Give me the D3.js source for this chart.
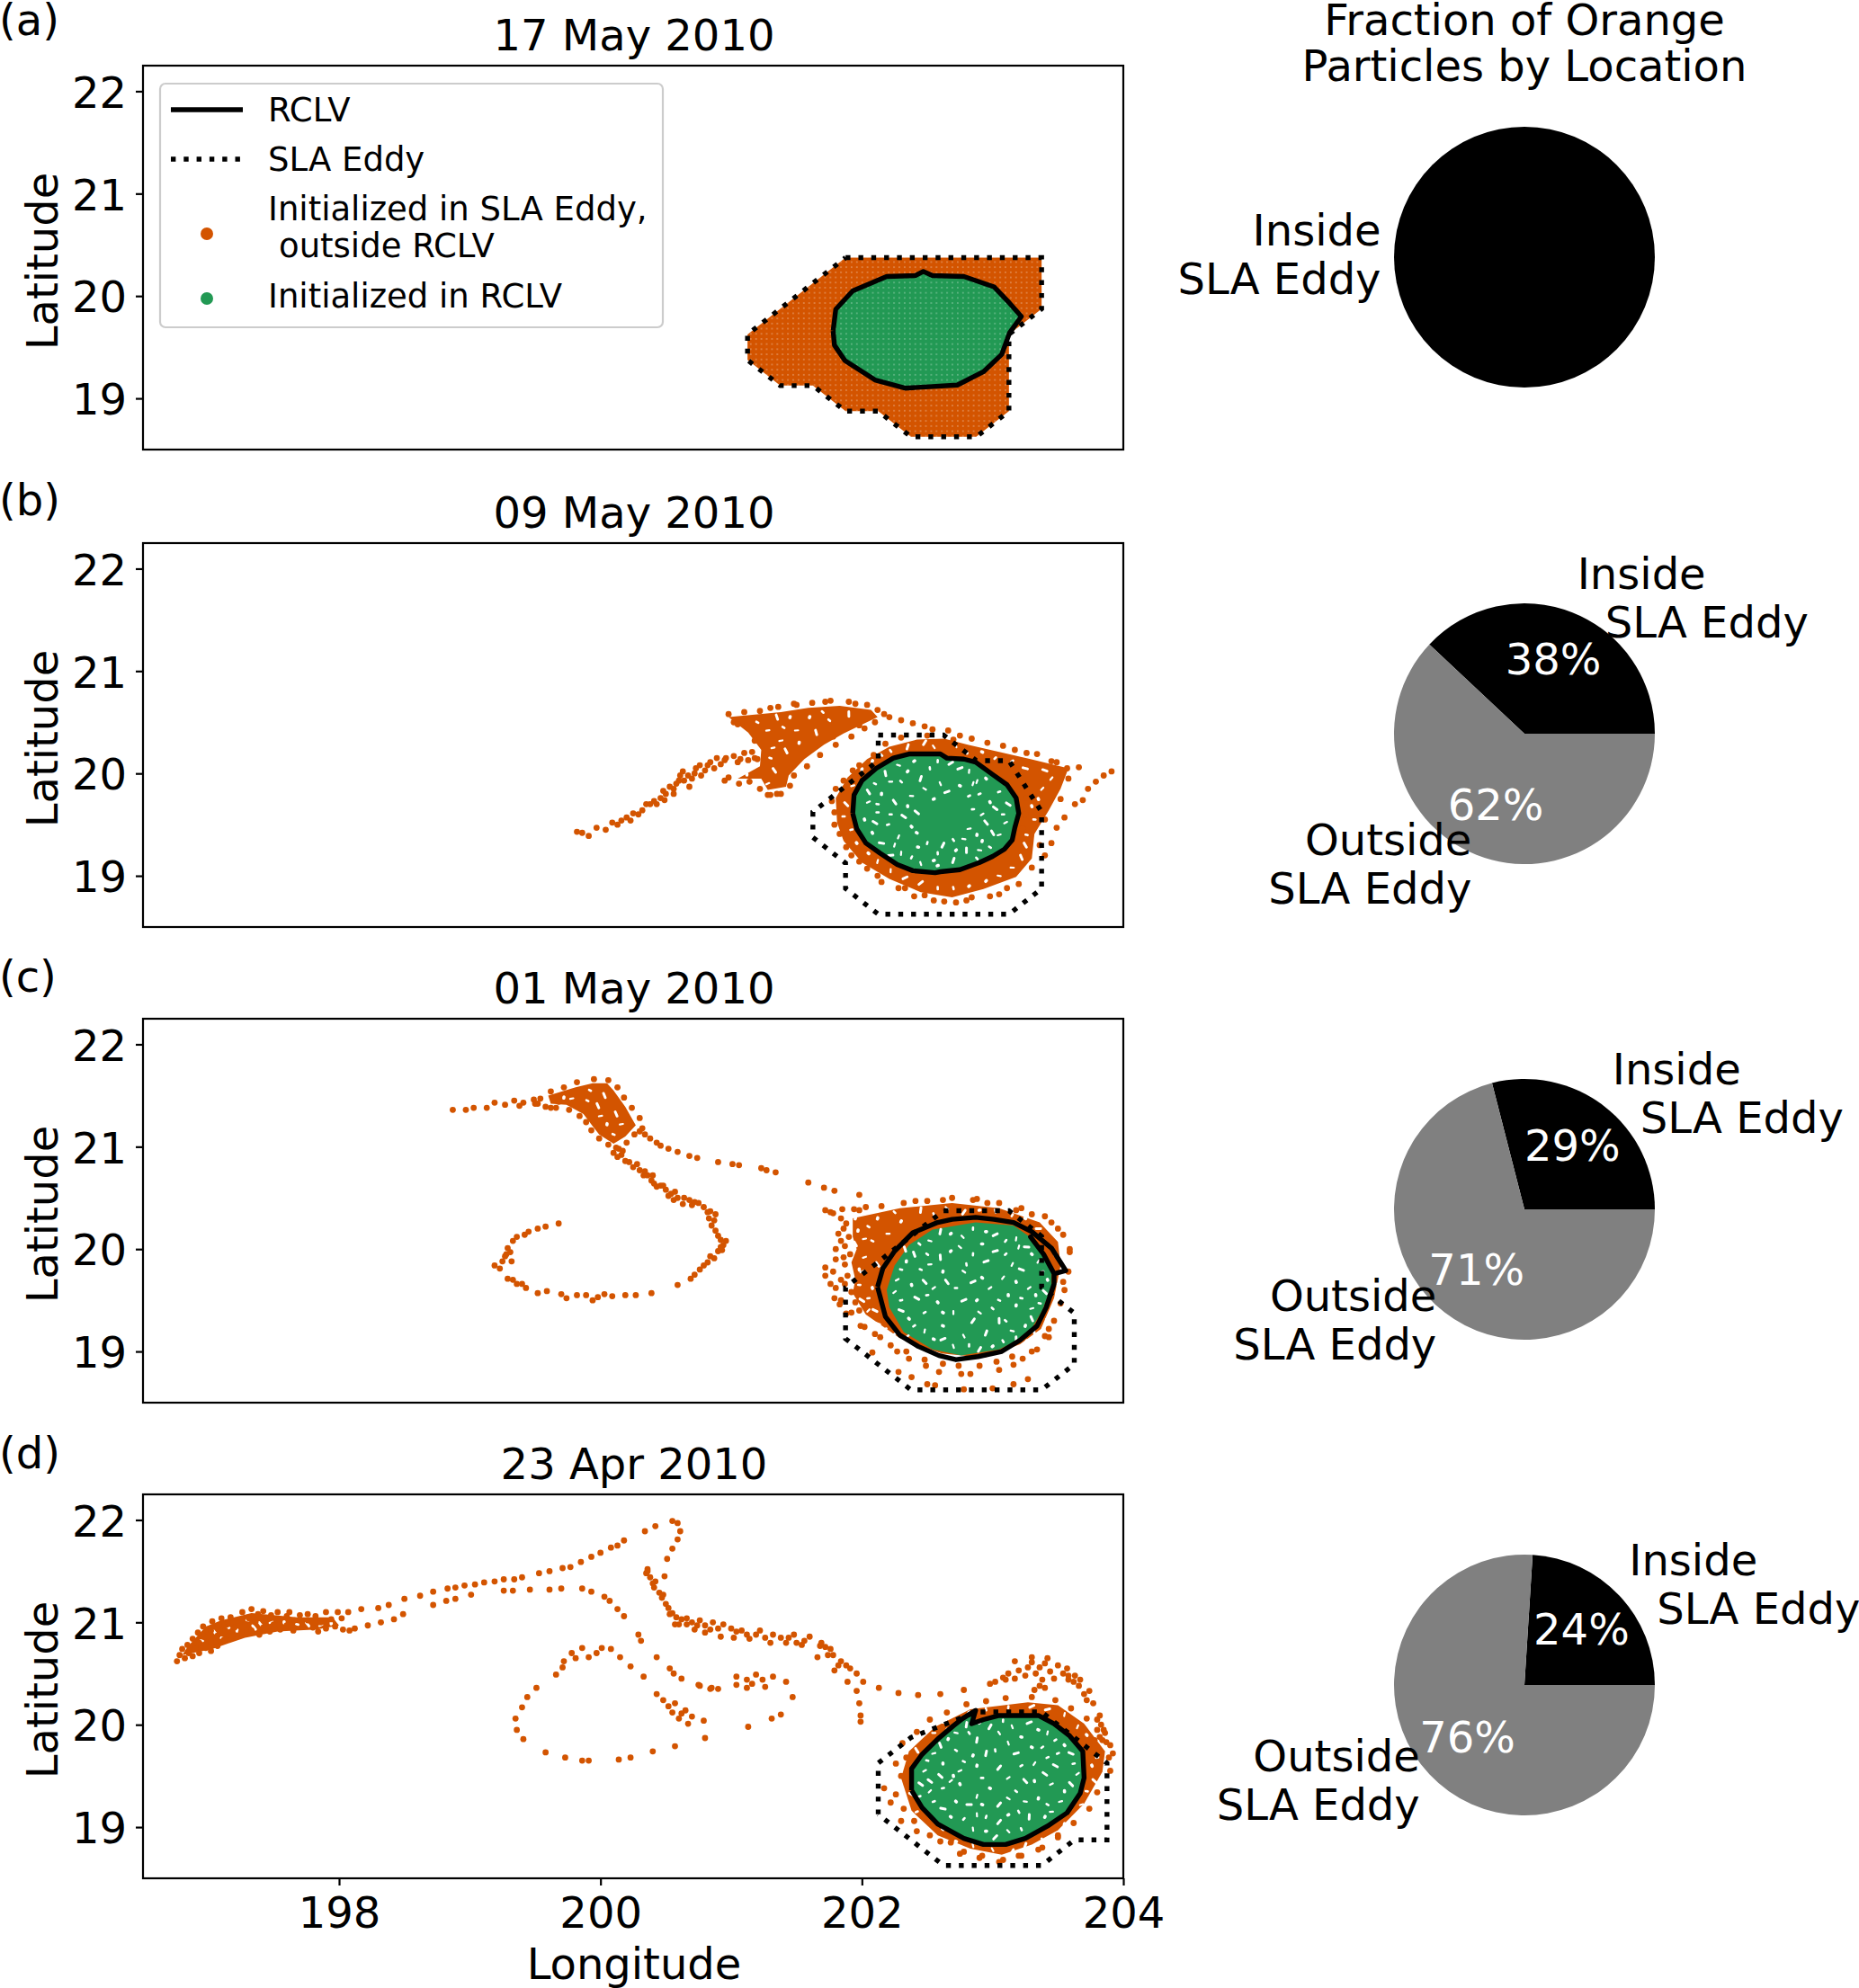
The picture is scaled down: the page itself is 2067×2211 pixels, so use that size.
<!DOCTYPE html>
<html>
<head>
<meta charset="utf-8">
<script src="https://d3js.org/d3.v7.min.js"></script>
<style>
  body { margin: 0; background: #fff; }
  text { font-family: "DejaVu Sans", sans-serif; fill: #000; }
</style>
</head>
<body>
<svg></svg>
<script>
// axis values
const lonTicks = [198, 200, 202, 204];
const latTicks = [19, 20, 21, 22];
const panelLetters = ["(a)", "(b)", "(c)", "(d)"];
const panelDates = ["17 May 2010", "09 May 2010", "01 May 2010", "23 Apr 2010"];
const pieValues = [[100], [38, 62], [29, 71], [24, 76]];
const pieNames = [["Inside", "SLA Eddy"], ["Outside", "SLA Eddy"]];
const legendNames = ["RCLV", "SLA Eddy", "Initialized in SLA Eddy,", " outside RCLV", "Initialized in RCLV"];

// contours, lon/lat
const rclvA = [[201.78,19.66],[201.80,19.87],[201.93,20.05],[202.19,20.19],[202.41,20.20],[202.47,20.24],[202.54,20.20],[202.78,20.19],[203.01,20.09],[203.13,19.93],[203.22,19.80],[203.13,19.64],[203.07,19.43],[202.93,19.26],[202.73,19.13],[202.33,19.10],[202.10,19.18],[201.87,19.37],[201.79,19.52],[201.78,19.66]];
const rclvB = [[201.93,19.61],[201.94,19.79],[202.00,19.93],[202.11,20.05],[202.24,20.15],[202.36,20.19],[202.60,20.19],[202.65,20.15],[202.78,20.14],[202.87,20.11],[203.00,19.99],[203.11,19.89],[203.18,19.76],[203.20,19.61],[203.17,19.47],[203.15,19.35],[203.09,19.26],[203.00,19.19],[202.90,19.13],[202.75,19.06],[202.60,19.04],[202.56,19.03],[202.39,19.05],[202.27,19.11],[202.14,19.22],[202.03,19.32],[201.96,19.46],[201.93,19.61]];
const rclvC = [[202.12,19.63],[202.16,19.81],[202.25,19.98],[202.39,20.16],[202.58,20.26],[202.69,20.29],[202.87,20.31],[203.01,20.29],[203.16,20.26],[203.30,20.17],[203.45,20.01],[203.52,19.87],[203.56,19.79],[203.47,19.76],[203.39,19.95],[203.29,20.12],[203.39,19.95],[203.47,19.76],[203.47,19.66],[203.41,19.43],[203.34,19.25],[203.21,19.11],[203.07,19.00],[202.89,18.95],[202.72,18.92],[202.59,18.96],[202.43,19.05],[202.29,19.16],[202.18,19.34],[202.12,19.63]];
const rclvD = [[202.38,19.36],[202.38,19.57],[202.46,19.71],[202.58,19.86],[202.70,19.99],[202.77,20.06],[202.87,20.14],[202.84,20.01],[202.93,20.05],[203.05,20.09],[203.35,20.09],[203.47,20.01],[203.59,19.89],[203.69,19.74],[203.70,19.48],[203.67,19.33],[203.57,19.14],[203.42,19.01],[203.25,18.89],[203.10,18.83],[202.93,18.83],[202.78,18.89],[202.58,19.03],[202.46,19.19],[202.38,19.36]];

const slaA = [[201.875,20.375],[203.375,20.375],[203.375,19.875],[203.125,19.625],[203.125,18.875],[202.875,18.625],[202.375,18.625],[202.125,18.875],[201.875,18.875],[201.625,19.125],[201.375,19.125],[201.125,19.375],[201.125,19.625],[201.875,20.375]];
const slaB = [[202.125,20.375],[202.625,20.375],[202.875,20.125],[203.125,20.125],[203.375,19.625],[203.375,18.875],[203.125,18.625],[202.125,18.625],[201.875,18.875],[201.875,19.125],[201.625,19.375],[201.625,19.625],[202.125,20.125],[202.125,20.375]];
const slaC = [[202.625,20.375],[203.125,20.375],[203.375,20.125],[203.375,19.625],[203.625,19.375],[203.625,18.875],[203.375,18.625],[202.375,18.625],[201.875,19.125],[201.875,19.625],[202.625,20.375]];
const slaD = [[202.125,19.125],[202.125,19.625],[202.375,19.875],[202.875,20.125],[203.375,20.125],[203.875,19.625],[203.875,18.875],[203.625,18.875],[203.375,18.625],[202.625,18.625],[202.125,19.125]];

// areas where the particles are packed so tight they read as one fill
const denseOrangeA = [slaA];
const denseOrangeB = [
  [[201.80,19.76],[201.89,19.96],[202.04,20.14],[202.21,20.26],[202.42,20.33],[202.63,20.34],[202.81,20.28],[203.05,20.21],[203.29,20.14],[203.58,20.05],[203.52,19.85],[203.43,19.64],[203.32,19.41],[203.30,19.17],[203.18,18.99],[202.93,18.87],[202.69,18.79],[202.45,18.84],[202.21,18.97],[202.00,19.13],[201.86,19.34],[201.81,19.52]],
  [[200.98,20.55],[201.38,20.60],[201.59,20.64],[201.83,20.66],[202.07,20.62],[202.12,20.55],[201.86,20.39],[201.71,20.28],[201.56,20.14],[201.44,19.98],[201.42,19.87],[201.28,19.84],[201.23,19.95],[201.05,19.95],[201.22,20.07],[201.23,20.23],[201.13,20.40]]
];
const denseOrangeC = [
  [[201.93,20.30],[202.29,20.40],[202.69,20.45],[203.05,20.40],[203.36,20.26],[203.50,20.07],[203.52,19.84],[203.47,19.52],[203.37,19.22],[203.21,19.07],[202.94,18.94],[202.61,18.98],[202.29,19.13],[202.03,19.36],[201.93,19.57],[201.95,19.70],[201.92,19.87],[201.96,20.00],[201.93,20.12]],
  [[199.60,21.50],[199.81,21.58],[199.94,21.62],[200.05,21.62],[200.10,21.55],[200.19,21.39],[200.27,21.21],[200.19,21.10],[200.10,21.03],[199.99,21.12],[199.94,21.20],[199.87,21.32],[199.74,21.41],[199.62,21.42]]
];
const denseOrangeD = [
  [[202.30,19.48],[202.36,19.74],[202.56,19.98],[202.83,20.15],[203.27,20.22],[203.50,20.19],[203.70,20.01],[203.86,19.74],[203.84,19.54],[203.70,19.23],[203.50,18.97],[203.30,18.83],[203.07,18.73],[202.83,18.79],[202.58,18.92],[202.38,19.16]],
  [[196.80,20.68],[196.84,20.76],[196.98,20.96],[197.10,21.02],[197.33,21.09],[197.68,21.05],[197.95,21.05],[198.00,20.97],[197.83,20.93],[197.53,20.91],[197.28,20.85],[197.03,20.74]]
];
const denseGreenA = [rclvA];
const denseGreenB = [rclvB];
const denseGreenC = [[[202.19,19.60],[202.25,19.84],[202.36,20.04],[202.54,20.19],[202.87,20.26],[203.16,20.23],[203.34,20.07],[203.45,19.84],[203.45,19.63],[203.38,19.40],[203.27,19.16],[203.05,19.02],[202.76,18.96],[202.54,19.02],[202.32,19.19],[202.21,19.43]]];
const denseGreenD = [rclvD];

// single particles that can be made out
const orangeB = [[199.82,19.43],[199.86,19.42],[199.91,19.39],[199.97,19.47],[200.04,19.45],[200.09,19.52],[200.16,19.54],[200.20,19.57],[200.25,19.61],[200.32,19.64],[200.38,19.70],[200.46,19.76],[200.50,19.80],[200.56,19.85],[200.60,19.93],[200.68,19.87],[200.67,19.98],[200.73,20.05],[200.77,19.98],[200.84,20.11],[200.92,20.09],[200.96,20.15],[201.02,20.17],[201.10,20.20],[201.16,20.21],[200.76,20.08],[200.89,20.15],[201.05,20.11],[200.61,19.98],[200.53,19.87],[200.41,19.73],
  [200.13,19.50],[200.23,19.54],[200.29,19.60],[200.35,19.70],[200.43,19.70],[200.49,19.74],[200.56,19.80],[200.58,19.90],[200.64,19.93],[200.70,19.95],[200.72,20.00],[200.80,20.03],[200.87,20.05],[200.95,20.13],[201.07,20.14],[201.13,20.13],[201.18,20.15],[200.82,20.08],[200.63,20.02],[200.48,19.83],
  [202.21,20.55],[202.30,20.52],[202.39,20.49],[202.48,20.46],[202.54,20.43],[202.66,20.42],[202.75,20.37],[202.84,20.34],[202.96,20.30],[203.08,20.27],[203.17,20.23],[203.26,20.20],[203.34,20.19],[203.49,20.11],[203.66,20.06],
  [203.91,20.02],[203.85,19.98],[203.79,19.92],[203.73,19.85],[203.69,19.74],[203.63,19.70],[203.55,19.57],[203.49,19.47],[203.45,19.32],[203.40,19.20],
  [203.11,18.88],[203.05,18.82],[202.84,18.79],[202.72,18.74],[202.63,18.75],[202.48,18.81],[202.33,18.88],[202.15,18.94],[202.04,19.07],[201.92,19.20],[201.83,19.41],[201.77,19.73],[201.86,19.93],[201.98,20.08],[202.09,20.18],
  [201.02,20.50],[201.30,20.64],[201.50,20.67],[201.72,20.70],[201.95,20.68],[202.12,20.62],[201.98,20.47],[201.78,20.36],[201.48,20.10],[201.35,19.80],[201.28,19.79],[200.98,19.96],
  [200.98,20.58],[201.10,20.60],[201.22,20.61],[201.36,20.65],[201.48,20.68],[201.62,20.69],[201.76,20.71],[201.90,20.70],[202.04,20.67],[202.17,20.58],[202.10,20.50],[202.02,20.44],[201.92,20.36],[201.80,20.28],[201.68,20.18],[201.58,20.07],[201.48,19.98],[201.45,19.88],[201.38,19.80],[201.30,19.79],[201.22,19.85],[201.14,19.92],[201.06,19.90],[200.95,19.93],[201.12,20.47],[201.05,20.48],[201.18,20.32],[201.20,20.14],
  [202.18,20.29],[202.30,20.35],[202.50,20.37],[202.70,20.33],[203.45,20.12],[203.57,20.05],[203.58,19.95],[203.52,19.75],[203.40,19.55],[203.36,19.30],[203.30,19.08],[203.20,18.92],[202.98,18.80],[202.80,18.76],[202.55,18.76],[202.40,18.80],[202.28,18.88],[202.12,19.00],[201.98,19.14],[201.88,19.28],[201.79,19.50],[201.79,19.62],[201.80,19.85],[201.93,20.03],
  [203.26,19.76],[203.23,19.46],[203.25,19.60]];
const orangeC = [[198.87,21.36],[198.97,21.36],[199.03,21.38],[199.13,21.38],[199.19,21.43],[199.27,21.41],[199.34,21.45],[199.41,21.43],[199.49,21.46],[199.38,21.40],[199.50,21.42],[199.62,21.38],[199.68,21.44],
  [199.54,21.47],[199.62,21.54],[199.72,21.58],[199.82,21.63],[199.95,21.66],[200.06,21.65],[200.13,21.58],[200.18,21.48],[200.24,21.38],[200.30,21.28],[200.32,21.18],[200.26,21.12],[200.20,21.04],[200.12,20.99],[200.06,21.02],[199.99,21.08],[199.93,21.16],[199.89,21.24],[199.84,21.30],[199.76,21.36],[199.66,21.38],[199.58,21.39],[199.52,21.42],
  [200.30,21.15],[200.38,21.08],[200.43,21.04],[200.52,20.98],[200.59,20.95],[200.68,20.91],[200.74,20.89],[200.90,20.85],[201.01,20.83],[201.23,20.79],[201.34,20.75],[201.59,20.65],[201.71,20.60],[201.79,20.57],[201.98,20.53],[201.06,20.82],[201.27,20.77],[200.46,21.01],[200.34,21.12],
  [200.14,20.98],[200.10,20.94],[200.19,20.86],[200.25,20.80],[200.30,20.77],[200.36,20.72],[200.39,20.67],[200.43,20.61],[200.50,20.58],[200.54,20.54],[200.59,20.50],[200.68,20.48],[200.63,20.44],[200.79,20.41],[200.88,20.34],[200.85,20.23],[200.90,20.13],[200.94,20.04],[200.90,19.98],[200.87,19.91],[200.79,19.84],[200.72,19.75],[200.69,19.71],[200.59,19.65],[200.39,19.57],[200.27,19.55],[200.19,19.55],[200.09,19.54],[199.98,19.53],[199.89,19.55],[199.74,19.52],[199.70,19.56],[199.59,19.59],[199.52,19.57],[199.43,19.62],[199.36,19.66],[199.29,19.71],[199.23,19.81],[199.19,19.84],[199.27,19.93],[199.29,20.01],[199.36,20.12],[199.45,20.17],[199.58,20.22],[199.68,20.25],
  [200.16,20.92],[200.22,20.85],[200.33,20.72],[200.40,20.72],[200.46,20.62],[200.52,20.52],[200.57,20.56],[200.70,20.43],[200.75,20.45],[200.84,20.37],[200.87,20.28],[200.92,20.09],[200.93,19.99],[200.82,19.87],[199.31,19.97],[199.33,20.08],[199.42,20.14],[199.52,20.20],[199.25,19.88],[199.33,19.70],[199.40,19.66],[199.82,19.55],[199.94,19.50],[200.03,19.56],
  [200.17,20.96],[200.13,20.90],[200.28,20.83],[200.34,20.76],[200.41,20.64],[200.48,20.62],[200.56,20.48],[200.64,20.50],[200.72,20.46],[200.82,20.36],[200.83,20.30],[200.88,20.18],[200.96,20.08],[200.92,20.02],[200.84,19.93],[200.76,19.80],[199.28,19.95],[199.32,19.88],
  [201.72,20.38],[201.78,20.35],[201.85,20.39],[201.94,20.39],[202.03,20.41],[202.41,20.47],[202.50,20.47],[202.69,20.50],[202.85,20.48],[202.96,20.45],[203.18,20.38],[203.30,20.34],[203.45,20.26],[203.54,20.14],[203.59,19.97],[203.54,19.68],[203.52,19.47],[203.43,19.22],[203.34,19.02],[203.23,18.93],[203.16,18.87],[203.05,18.82],[202.83,18.78],[202.76,18.78],[202.59,18.80],[202.49,18.86],[202.36,18.93],[202.27,19.00],[202.14,19.14],[202.08,18.99],[202.28,18.80],[202.38,18.75],[202.50,18.68],[202.56,18.67],[202.78,18.63],[203.00,18.64],[203.16,18.68],[203.27,18.73],[201.72,19.82],[201.72,19.74],[201.76,19.66],[201.79,19.52],[201.83,19.46],[201.88,19.37],[201.99,19.25],[203.43,19.14],
  [201.76,20.36],[201.84,20.30],[201.82,20.15],[201.80,20.00],[201.80,19.90],[201.78,19.78],[201.80,19.62],[201.84,19.50],[201.92,19.38],[202.02,19.24],[202.10,19.17],[202.22,19.06],[202.34,19.00],[202.48,18.92],[202.62,18.88],[202.74,18.86],[202.90,18.86],[203.03,18.90],[203.15,18.95],[203.30,19.00],[203.40,19.15],[203.47,19.30],[203.55,19.60],[203.58,19.78],[203.59,20.00],[203.50,20.20],[203.40,20.32],[203.22,20.40],[203.05,20.45],[202.88,20.49],[202.62,20.48],[202.32,20.45],[202.15,20.42],[201.98,20.38],
  [201.88,20.25],[201.90,20.12],[201.87,20.03],[201.91,19.95],[201.87,19.85],[201.89,19.74],[201.87,19.66],[201.92,19.58],[201.95,19.48],[201.98,19.40],[201.86,20.20],[201.84,20.08],[201.86,19.92],[201.84,19.70]];
const orangeD = [[196.76,20.62],[196.78,20.68],[196.82,20.65],[196.80,20.74],[196.85,20.70],[196.88,20.67],[196.84,20.78],[196.90,20.74],[196.93,20.70],[196.88,20.84],[196.93,20.80],[196.98,20.75],[197.02,20.72],[196.92,20.90],[196.97,20.86],[197.02,20.81],[197.07,20.77],[196.96,20.96],[197.02,20.92],[197.07,20.87],[197.12,20.83],[197.03,21.01],[197.08,20.97],[197.13,20.92],[197.18,20.87],[197.10,21.04],[197.15,21.00],[197.20,20.95],[197.25,20.90],[197.17,21.05],[197.22,21.02],[197.28,20.97],[197.33,20.92],[197.39,20.88],[197.26,21.10],[197.31,21.04],[197.36,21.00],[197.42,20.95],[197.47,20.91],[197.33,21.13],[197.38,21.08],[197.44,21.03],[197.50,20.98],[197.55,20.93],[197.42,21.11],[197.48,21.07],[197.54,21.03],[197.60,20.97],[197.65,20.92],[197.53,21.10],[197.60,21.06],[197.66,21.02],[197.72,20.96],[197.62,21.10],[197.70,21.07],[197.76,21.02],[197.80,20.95],[197.84,20.91],[197.76,21.08],[197.82,21.06],[197.86,21.00],[197.90,20.94],[197.90,21.10],[197.94,21.03],[197.97,20.96],[197.99,21.10],[198.02,21.04],[198.03,20.93],[198.08,20.92],
  [198.07,21.10],[198.17,21.13],[198.30,21.14],[198.38,21.17],[198.50,21.23],[198.62,21.26],[198.72,21.30],[198.83,21.33],[198.89,21.34],[198.96,21.36],[199.04,21.37],[199.11,21.39],[199.19,21.40],[199.26,21.42],[199.34,21.42],[199.40,21.44],[199.53,21.48],[199.61,21.50],[199.71,21.53],[199.77,21.54],[199.85,21.59],[199.93,21.64],[200.00,21.68],[200.08,21.73],[200.13,21.75],[200.18,21.80],[200.34,21.89],[200.42,21.94],[200.55,21.99],[200.59,21.97],[200.61,21.89],[200.59,21.81],[200.55,21.72],[200.51,21.62],[200.49,21.45],
  [198.12,20.94],[198.22,20.97],[198.32,21.00],[198.42,21.03],[198.49,21.08],[198.72,21.17],[198.82,21.21],[198.89,21.23],[199.01,21.27],[199.26,21.31],[199.33,21.31],[199.46,21.32],[199.61,21.32],[199.70,21.33],[199.86,21.33],[199.93,21.30],[200.03,21.25],[200.07,21.21],[200.13,21.13],[200.18,21.06],[200.29,20.88],[200.31,20.82],[200.43,20.66],[200.53,20.55],[200.56,20.50],[200.62,20.45],[200.76,20.38],[200.84,20.35],[200.90,20.35],
  [200.40,21.38],[200.45,21.29],[200.50,21.18],[200.55,21.09],[200.62,21.03],[200.70,21.00],[200.80,20.97],[200.90,20.94],[201.04,20.91],[201.19,20.88],[201.32,20.88],[201.44,20.85],[201.56,20.82],[201.69,20.80],[201.76,20.74],[201.84,20.62],[201.91,20.55],[201.96,20.50],[202.01,20.42],[202.13,20.36],[202.28,20.31],[202.43,20.29],[202.60,20.30],[202.78,20.34],[201.96,20.33],[201.98,20.21],[201.99,20.09],[201.99,20.03],[201.89,20.42],[201.79,20.53],[201.66,20.66],
  [200.36,21.52],[200.35,21.48],[200.38,21.44],[200.41,21.34],[200.47,21.24],[200.52,21.14],[200.58,21.05],[200.60,20.98],[200.66,21.04],[200.74,20.97],[200.76,21.02],[200.84,20.93],[200.86,21.00],[200.94,20.98],[201.00,20.94],[201.08,20.92],[201.14,20.84],[201.22,20.92],[201.38,20.85],[201.50,20.80],[201.60,20.86],[201.72,20.76],[201.78,20.68],[201.88,20.58],
  [200.36,21.50],[200.42,21.40],[200.48,21.27],[200.53,21.08],[200.57,20.98],[200.66,20.98],[200.72,20.93],[200.80,20.90],[200.92,20.86],[201.02,20.85],[201.12,20.88],[201.26,20.85],[201.30,20.80],[201.42,20.80],[201.48,20.88],[201.54,20.78],[201.68,20.77],[201.74,20.68],[201.82,20.58],
  [199.86,20.75],[199.91,20.66],[199.81,20.65],[199.71,20.56],[199.66,20.49],[199.51,20.36],[199.44,20.27],[199.40,20.17],[199.35,20.06],[199.36,19.95],[199.41,19.86],[199.58,19.73],[199.73,19.68],[199.86,19.65],[199.91,19.65],[200.14,19.66],[200.23,19.68],[200.40,19.74],[200.57,19.79],[200.80,19.87],[201.13,19.98],[201.31,20.06],[201.38,20.10],[201.47,20.27],[200.01,20.75],[200.08,20.74],[200.15,20.66],[200.23,20.57],[200.33,20.47],[199.97,20.70],[199.72,20.62],[199.78,20.70],
  [200.43,20.30],[200.48,20.24],[200.52,20.18],[200.55,20.12],[200.60,20.06],[200.67,20.01],[200.65,20.14],[200.70,20.08],[200.79,20.04],[200.57,20.21],[200.62,20.11],
  [201.04,20.47],[201.12,20.44],[201.19,20.49],[201.24,20.44],[201.32,20.47],[201.42,20.42],[201.12,20.36],[201.04,20.39],[201.16,20.40],[201.26,20.37],[200.85,20.36],[200.75,20.39],
  [202.98,20.40],[203.10,20.44],[203.17,20.62],[203.30,20.66],[203.42,20.65],[203.57,20.55],[203.67,20.44],[203.74,20.33],[203.77,20.21],[203.82,20.09],[203.85,19.95],[203.87,19.83],[203.89,19.68],
  [203.02,20.42],[203.08,20.46],[203.12,20.50],[203.17,20.45],[203.20,20.53],[203.25,20.48],[203.27,20.56],[203.30,20.61],[203.33,20.50],[203.36,20.56],[203.40,20.60],[203.38,20.44],[203.44,20.52],[203.47,20.45],[203.50,20.58],[203.54,20.50],[203.32,20.34],[203.36,20.38],[203.40,20.36],[203.58,20.44],[203.63,20.48],[203.66,20.38],[203.70,20.30],[203.72,20.24],[203.80,20.05],[203.83,20.00],[203.86,19.92],[203.84,19.85],[203.80,19.95],[203.78,19.85],[203.90,19.80],[203.58,20.48],[203.62,20.42],
  [202.17,19.38],[202.22,19.24],[202.30,19.06],[202.42,18.96],[202.60,18.86],[202.75,18.74],[202.90,18.70],[203.05,18.66],[203.20,18.72],[203.35,18.78],[203.50,18.90],
  [202.26,19.62],[202.31,19.82],[202.42,19.93],[202.52,20.05],[202.65,20.12],[202.80,20.20],[202.95,20.23],[203.10,20.26],[203.30,20.27],[203.48,20.24],[203.60,20.16],[203.72,20.06],[203.82,19.88],[203.92,19.72],[203.90,19.55],[203.80,19.34],[203.74,19.18],[203.62,19.04],[203.50,18.92],[203.38,18.80],[203.22,18.72],[203.08,18.68],[202.92,18.72],[202.78,18.76],[202.68,18.85],[202.52,18.92],[202.40,19.06],[202.32,19.18],[202.26,19.32],[202.30,19.50],[202.34,19.68],[202.36,19.42]];
const orangeA = [];

// pale gaps between particles
const gapsOrangeB = [[201.20,20.50],[201.35,20.55],[201.50,20.42],[201.60,20.55],[201.75,20.52],[201.90,20.58],[201.38,20.32],[201.52,20.30],[201.30,20.15],[201.33,20.03],[201.28,19.90],[201.12,19.99],[201.40,20.45],[201.65,20.40],[201.28,20.42],[201.45,20.55],[201.70,20.60],[201.42,20.22],[201.32,20.25],[202.00,20.04],[202.15,20.18],[202.35,20.26],[202.55,20.26],[202.80,20.20],[203.02,20.15],[203.25,20.05],[203.45,19.95],[203.35,19.75],[203.32,19.55],[203.25,19.30],[203.15,19.08],[202.95,18.95],[202.70,18.88],[202.45,18.93],[202.22,19.05],[202.05,19.22],[201.92,19.45],[201.88,19.70],[201.93,19.88],[202.08,20.12],[202.22,20.22],[202.48,20.30],[202.72,20.27],[202.92,20.21],[203.15,20.12],[203.40,20.03],[203.38,19.85],[203.30,19.68],[203.26,19.40],[203.22,19.18],[203.05,19.00],[202.82,18.90],[202.58,18.88],[202.33,18.98],[202.12,19.14],[201.96,19.32],[201.86,19.58]];
const gapsOrangeC = [[199.90,21.45],[199.98,21.40],[200.00,21.30],[200.05,21.22],[200.10,21.12],[200.03,21.50],[199.78,21.47],[199.72,21.48],[199.92,21.55],[200.12,21.32],[200.16,21.22],[201.95,20.30],[202.05,20.22],[201.95,20.05],[202.02,19.92],[201.98,19.80],[201.98,19.65],[202.00,19.50],[202.05,19.40],[202.12,20.30],[202.25,20.36],[202.45,20.38],[202.65,20.40],[202.90,20.38],[203.15,20.33],[203.35,20.20],[203.48,19.95],[203.50,19.65],[203.46,19.42],[203.32,19.18],[203.15,19.02],[202.50,19.00],[202.25,19.17],[202.12,19.27],[202.02,20.10],[201.97,20.18],[202.08,20.08],[202.12,19.85],[202.00,19.78],[202.08,19.62],[202.05,19.52],[202.10,19.40],[202.20,20.15],[202.30,20.27],[202.55,20.34],[202.78,20.36],[203.02,20.37],[203.25,20.30],[202.18,19.22],[202.36,19.08],[203.42,19.32],[203.26,19.10]];
const gapsOrangeD = [[202.40,19.55],[202.42,19.75],[202.55,19.92],[202.70,20.10],[202.95,20.15],[203.30,20.18],[203.55,20.10],[203.72,19.90],[203.80,19.68],[203.78,19.45],[203.68,19.22],[203.55,19.03],[203.38,18.88],[203.15,18.76],[202.85,18.82],[202.62,18.98],[202.42,19.15],[202.38,19.32],[202.62,20.02],[202.82,20.12],[203.12,20.17],[203.42,20.15],[203.65,19.98],[203.76,19.60],[203.72,19.35],[203.25,18.82],[203.00,18.78],[202.72,18.86],
  [196.95,20.82],[197.05,20.90],[197.15,20.94],[197.22,20.92],[197.30,21.02],[197.40,20.98],[197.48,21.00],[197.58,21.00],[197.68,20.98],[197.76,20.98],[197.86,20.97],[197.94,20.99],[197.10,20.85],[197.35,20.95]];
const gapsGreenB = [[202.10,19.90],[202.18,20.00],[202.28,20.08],[202.40,20.12],[202.52,20.05],[202.68,20.10],[202.82,20.02],[202.95,19.95],[203.05,19.82],[203.12,19.70],[202.05,19.72],[202.15,19.80],[202.30,19.92],[202.45,19.95],[202.60,19.90],[202.75,19.88],[202.90,19.80],[203.02,19.66],[203.10,19.52],[202.02,19.55],[202.12,19.62],[202.25,19.72],[202.38,19.78],[202.55,19.75],[202.85,19.65],[202.95,19.52],[203.05,19.40],[202.08,19.42],[202.20,19.50],[202.32,19.58],[202.82,19.46],[202.92,19.34],[202.98,19.28],[202.15,19.32],[202.28,19.38],[202.42,19.42],[202.70,19.35],[202.80,19.25],[202.30,19.22],[202.43,19.28],[202.58,19.22],[202.70,19.15],[202.45,19.12],[202.58,19.10],[202.88,19.17],
  [202.05,19.82],[202.22,19.92],[202.35,20.02],[202.58,20.12],[202.75,20.05],[202.88,19.92],[202.98,19.72],[203.08,19.60],[203.00,19.42],[202.92,19.60],[202.88,19.40],[202.82,19.78],[202.65,19.82],[202.48,19.85],[202.35,19.68],[202.22,19.60],[202.10,19.52],[202.25,19.30],[202.38,19.48],[202.50,19.32],[202.62,19.30],[202.78,19.36],[202.55,19.15],[202.38,19.18],[202.22,19.20],[202.90,19.25],[202.72,19.25],[202.12,19.70],[202.42,19.62],[202.85,19.90]];
const gapsGreenC = [[202.30,19.80],[202.40,19.95],[202.52,20.08],[202.68,20.15],[202.85,20.20],[203.02,20.14],[203.18,20.10],[203.30,19.95],[203.38,19.78],[203.40,19.58],[203.30,19.42],[203.25,19.25],[203.08,19.10],[202.90,19.02],[202.70,19.05],[202.55,19.12],[202.40,19.25],[202.30,19.40],[202.25,19.58],[202.38,19.65],[202.45,19.80],[202.60,19.92],[202.75,20.02],[202.92,20.05],[203.10,19.95],[203.22,19.80],[203.28,19.62],[203.18,19.45],[203.10,19.30],[202.95,19.18],[202.78,19.15],[202.62,19.25],[202.48,19.38],[202.42,19.52],[202.55,19.62],[202.62,19.78],[202.80,19.85],[202.95,19.88],[203.08,19.72],[203.12,19.55],[203.00,19.42],[202.85,19.30],[202.70,19.38],[202.58,19.48],[202.72,19.62],[202.85,19.68],[202.98,19.62],[202.88,19.50],[202.50,19.95],[202.33,20.00],[203.20,20.02],[203.33,19.55],[202.35,19.15],[203.18,19.12],
  [202.27,19.70],[202.34,19.88],[202.44,20.05],[202.60,20.17],[202.77,20.12],[202.95,20.17],[203.10,20.08],[203.26,20.02],[203.35,19.88],[203.42,19.70],[203.36,19.47],[203.30,19.32],[203.15,19.20],[203.00,19.05],[202.82,19.06],[202.62,19.12],[202.48,19.20],[202.36,19.32],[202.30,19.50],[202.48,19.68],[202.52,19.85],[202.68,19.98],[202.85,19.95],[203.02,19.98],[203.15,19.85],[203.18,19.68],[203.22,19.52],[203.05,19.30],[202.90,19.38],[202.62,19.38],[202.50,19.55],[202.65,19.68],[202.78,19.78],[202.92,19.72],[203.05,19.50],[202.78,19.50]];
const gapsGreenD = [[202.50,19.65],[202.60,19.80],[202.72,19.92],[202.90,20.02],[203.08,20.04],[203.28,20.02],[203.42,19.92],[203.55,19.80],[203.62,19.62],[203.60,19.42],[203.52,19.25],[203.40,19.10],[203.22,18.98],[203.02,18.90],[202.85,18.98],[202.68,19.10],[202.55,19.25],[202.45,19.42],[202.48,19.55],[202.62,19.62],[202.72,19.75],[202.88,19.85],[203.05,19.92],[203.22,19.88],[203.38,19.78],[203.48,19.60],[203.45,19.42],[203.35,19.28],[203.20,19.15],[203.05,19.05],[202.88,19.12],[202.72,19.25],[202.62,19.38],[202.60,19.50],[202.75,19.55],[202.85,19.70],[203.02,19.75],[203.18,19.72],[203.32,19.62],[203.32,19.45],[203.18,19.35],[203.05,19.22],[202.88,19.30],[202.75,19.42],[202.92,19.48],[203.05,19.58],[203.12,19.48],[202.98,19.38],[203.50,19.72],[202.80,20.00],[203.45,19.15],[202.65,19.95],
  [202.44,19.30],[202.52,19.45],[202.55,19.72],[202.66,19.86],[202.82,19.92],[202.98,19.98],[203.15,19.98],[203.35,19.95],[203.48,19.85],[203.60,19.72],[203.65,19.52],[203.55,19.35],[203.42,19.22],[203.28,19.10],[203.12,18.96],[202.95,18.96],[202.78,19.08],[202.62,19.18],[202.52,19.35],[202.70,19.50],[202.78,19.64],[202.95,19.72],[203.12,19.82],[203.30,19.78],[203.42,19.68],[203.40,19.52],[203.25,19.25],[203.12,19.12],[202.95,19.10],[202.82,19.22],[202.68,19.45],[202.88,19.60],[203.22,19.60],[203.25,19.45],[203.12,19.28],[202.92,19.22]];

const panelContours = [rclvA, rclvB, rclvC, rclvD];
const panelEddies = [slaA, slaB, slaC, slaD];
const panelDenseOrange = [denseOrangeA, denseOrangeB, denseOrangeC, denseOrangeD];
const panelDenseGreen = [denseGreenA, denseGreenB, denseGreenC, denseGreenD];
const panelOrange = [orangeA, orangeB, orangeC, orangeD];
const panelGapsOrange = [[], gapsOrangeB, gapsOrangeC, gapsOrangeD];
const panelGapsGreen = [[], gapsGreenB, gapsGreenC, gapsGreenD];

const width = 2067;
const height = 2211;
const orange = "#d35400";
const green = "#229954";
const fontBig = 48;
const fontLegend = 37;
const lwContour = 5.4;
const letterY = [-33, -30, -29, -28];

let svg = d3.select("svg")
  .attr("width", width)
  .attr("height", height)
  .style("display", "block");

// starting grid of panel (a) shows as a faint lattice
let lattice = svg.append("defs").append("pattern")
  .attr("id", "lattice")
  .attr("patternUnits", "userSpaceOnUse")
  .attr("width", 5.9).attr("height", 5.7);
lattice.append("circle")
  .attr("cx", 2.9).attr("cy", 2.8).attr("r", 0.9)
  .attr("fill", "#fff").attr("fill-opacity", 0.35);

const x = d3.scaleLinear().domain([196.5, 204]).range([159, 1249]);
const y = d3.scaleLinear().domain([18.5, 22.25]).range([428, 1]);
const panelTops = [72, 603, 1132, 1661];
const geo = d3.line().x(d => x(d[0])).y(d => y(d[1]));

// small white flecks, lying roughly towards the middle of the cloud
function drawGaps(g, gaps, center) {
  g.selectAll(null).data(gaps).join("line")
    .each(function (d, k) {
      const px = x(d[0]), py = y(d[1]);
      const a = Math.atan2(py - center[1], px - center[0]) + [0, 0.7, -0.6, 1.3][k % 4];
      const len = [1.2, 2.6, 1.8, 0.6][k % 4];
      d3.select(this)
        .attr("x1", px - len * Math.cos(a)).attr("y1", py - len * Math.sin(a))
        .attr("x2", px + len * Math.cos(a)).attr("y2", py + len * Math.sin(a))
        .attr("stroke-width", [2.6, 3, 2.2, 3.6][k % 4]);
    })
    .attr("stroke", "#fff")
    .attr("stroke-linecap", "round");
}

// one map panel
function drawMap(i) {
  let g = svg.append("g").attr("transform", `translate(0, ${panelTops[i]})`);

  g.append("text")
    .attr("x", -1).attr("y", letterY[i])
    .attr("font-size", fontBig)
    .text(panelLetters[i]);

  g.append("text")
    .attr("x", 705).attr("y", -16)
    .attr("text-anchor", "middle")
    .attr("font-size", fontBig)
    .text(panelDates[i]);

  const toPx = p => [x(p[0]), y(p[1])];
  const greenCenter = d3.polygonCentroid(panelDenseGreen[i][0].map(toPx));

  panelDenseOrange[i].forEach(a => {
    g.append("path").attr("d", geo(a) + "Z").attr("fill", orange);
  });
  drawGaps(g.append("g"), panelGapsOrange[i], greenCenter);
  g.append("g").selectAll("circle").data(panelOrange[i]).join("circle")
    .attr("cx", d => x(d[0])).attr("cy", d => y(d[1])).attr("r", 3.4)
    .attr("fill", orange);

  panelDenseGreen[i].forEach(a => {
    g.append("path").attr("d", geo(a) + "Z").attr("fill", green);
  });
  drawGaps(g.append("g"), panelGapsGreen[i], greenCenter);

  if (i == 0) {
    g.append("path").attr("d", geo(slaA) + "Z").attr("fill", "url(#lattice)");
  }

  g.append("path").attr("d", geo(panelContours[i]))
    .attr("fill", "none").attr("stroke", "#000")
    .attr("stroke-width", lwContour).attr("stroke-linejoin", "round");
  g.append("path").attr("d", geo(panelEddies[i]))
    .attr("fill", "none").attr("stroke", "#000")
    .attr("stroke-width", lwContour).attr("stroke-dasharray", "5.4 8.9");

  // frame + axes
  g.append("rect")
    .attr("x", 159).attr("y", 1).attr("width", 1090).attr("height", 427)
    .attr("fill", "none").attr("stroke", "#000").attr("stroke-width", 2.2);

  let left = g.append("g").attr("transform", "translate(159, 0)")
    .call(d3.axisLeft(y).tickValues(latTicks).tickFormat(d3.format("d")).tickSize(8).tickPadding(10));
  left.select(".domain").remove();
  left.selectAll("line").attr("stroke-width", 2.2);
  left.selectAll("text").attr("font-size", fontBig).attr("font-family", "DejaVu Sans").attr("dy", "0.37em");

  g.append("text")
    .attr("transform", `translate(47, ${y(20.34)}) rotate(-90)`)
    .attr("text-anchor", "middle").attr("dominant-baseline", "central")
    .attr("font-size", fontBig)
    .text("Latitude");

  if (i == 3) {
    let bottom = g.append("g").attr("transform", "translate(0, 428)")
      .call(d3.axisBottom(x).tickValues(lonTicks).tickFormat(d3.format("d")).tickSize(8).tickPadding(13));
    bottom.select(".domain").remove();
    bottom.selectAll("line").attr("stroke-width", 2.2);
    bottom.selectAll("text").attr("font-size", fontBig).attr("font-family", "DejaVu Sans");
    g.append("text")
      .attr("x", 705).attr("y", 540)
      .attr("text-anchor", "middle")
      .attr("font-size", fontBig)
      .text("Longitude");
  }
}

function drawLegend() {
  let g = svg.append("g");
  g.append("rect")
    .attr("x", 178).attr("y", 93).attr("width", 559).attr("height", 271).attr("rx", 6)
    .attr("fill", "#fff").attr("stroke", "#ccc").attr("stroke-width", 2.2);
  g.append("line").attr("x1", 190).attr("x2", 270).attr("y1", 122).attr("y2", 122)
    .attr("stroke", "#000").attr("stroke-width", lwContour);
  g.append("line").attr("x1", 190).attr("x2", 270).attr("y1", 177).attr("y2", 177)
    .attr("stroke", "#000").attr("stroke-width", lwContour).attr("stroke-dasharray", "5.4 8.9");
  g.append("circle").attr("cx", 230).attr("cy", 260).attr("r", 7).attr("fill", orange);
  g.append("circle").attr("cx", 230).attr("cy", 332).attr("r", 7).attr("fill", green);
  const rowY = [122, 177, 232, 273, 329];
  legendNames.forEach((t, k) => {
    g.append("text")
      .attr("x", k == 3 ? 310 : 298).attr("y", rowY[k])
      .attr("dominant-baseline", "central")
      .attr("font-size", fontLegend)
      .text(t.trim());
  });
}

// pie on the right, first slice starts at east and goes counterclockwise
function drawPie(i) {
  const cy = [286, 816, 1345, 1874][i];
  const r = 145;
  let g = svg.append("g").attr("transform", `translate(1695, ${cy})`);
  const pie = d3.pie().sort(null).startAngle(Math.PI / 2).endAngle(Math.PI / 2 - 2 * Math.PI);
  const arcs = pie(pieValues[i]);
  const arc = d3.arc().innerRadius(0).outerRadius(r);
  const labelArc = d3.arc().innerRadius(r * 1.1).outerRadius(r * 1.1);
  const pctArc = d3.arc().innerRadius(r * 0.6).outerRadius(r * 0.6);

  g.selectAll("path").data(arcs).join("path")
    .attr("d", arc)
    .attr("fill", (d, k) => k == 0 ? "#000" : "#808080");

  arcs.forEach((d, k) => {
    const [lx, ly] = labelArc.centroid(d);
    const anchor = lx > 0 ? "start" : "end";
    pieNames[k].forEach((line, n) => {
      g.append("text")
        .attr("x", lx + (lx > 0 && n == 1 ? 31 : 0))
        .attr("y", ly - 3 + (n == 0 ? -27 : 27))
        .attr("text-anchor", anchor)
        .attr("dominant-baseline", "central")
        .attr("font-size", fontBig)
        .text(line);
    });
    if (pieValues[i].length > 1) {
      const [px, py] = pctArc.centroid(d);
      g.append("text")
        .attr("x", px).attr("y", py - 2)
        .attr("text-anchor", "middle")
        .attr("dominant-baseline", "central")
        .attr("font-size", fontBig)
        .style("fill", "#fff")
        .text(d.data + "%");
    }
  });
}

panelDates.forEach((d, i) => drawMap(i));
drawLegend();
pieValues.forEach((d, i) => drawPie(i));

svg.append("text").attr("x", 1695).attr("y", 22).attr("text-anchor", "middle")
  .attr("dominant-baseline", "central").attr("font-size", fontBig).text("Fraction of Orange");
svg.append("text").attr("x", 1695).attr("y", 73).attr("text-anchor", "middle")
  .attr("dominant-baseline", "central").attr("font-size", fontBig).text("Particles by Location");
</script>
</body>
</html>
